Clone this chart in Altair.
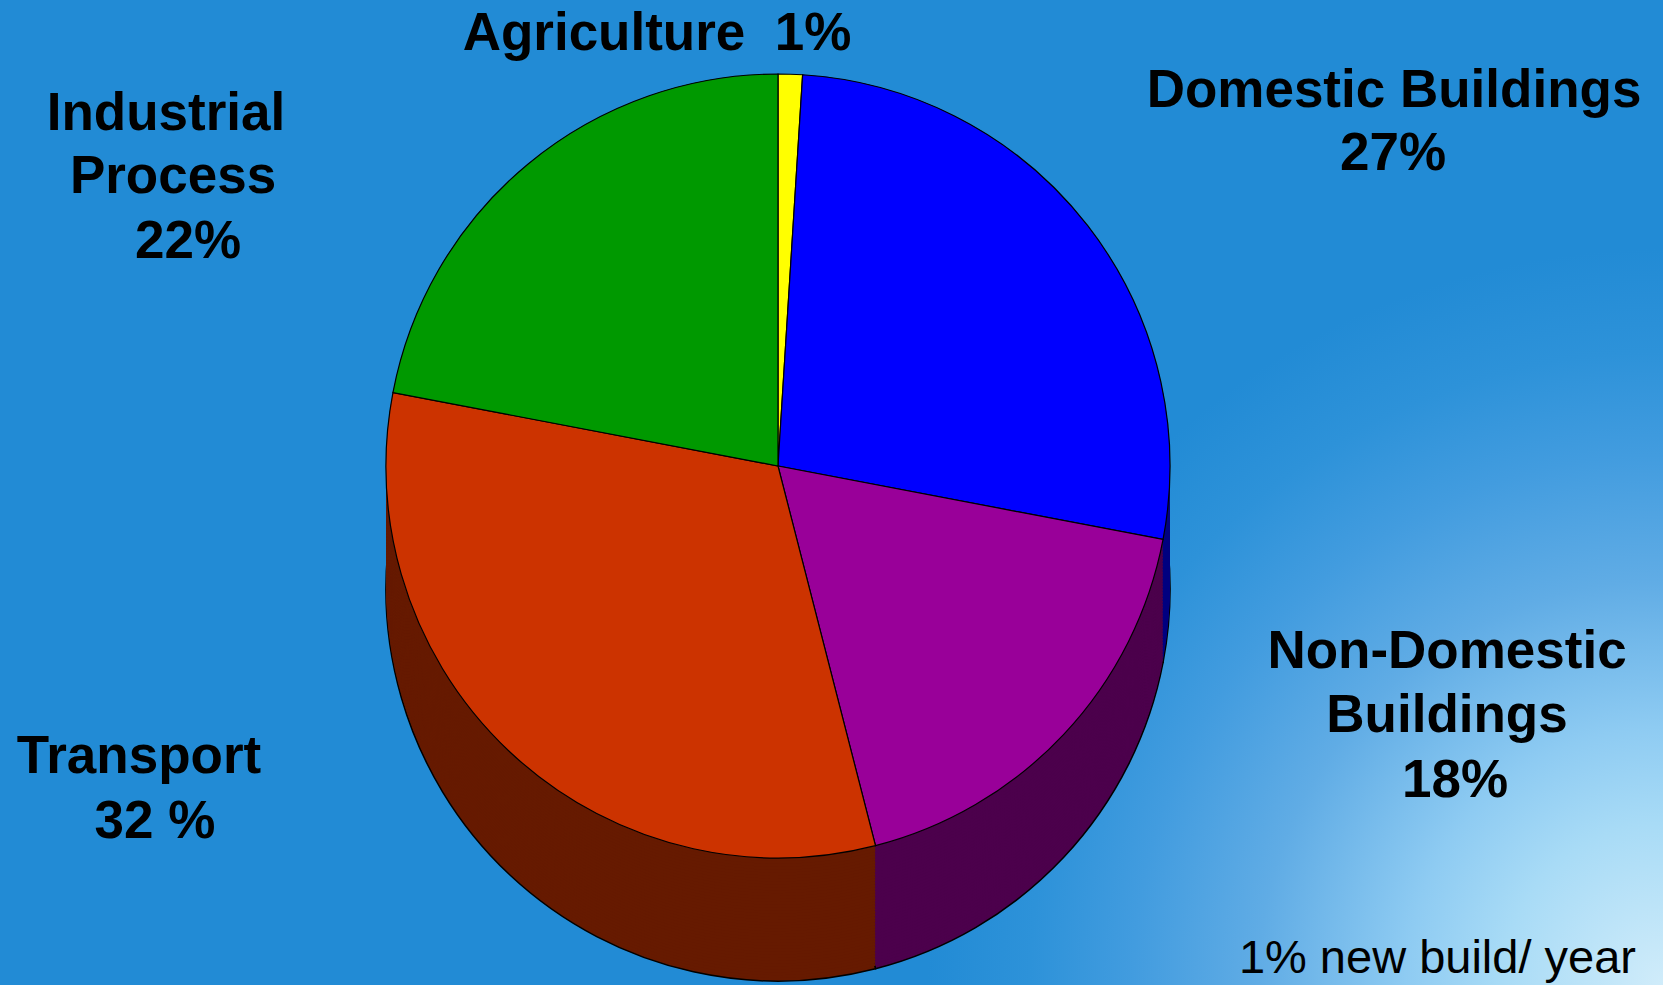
import math
import altair as alt
import pandas as pd

# ---- data ----
categories = ["Agriculture", "Domestic Buildings", "Non-Domestic Buildings", "Transport", "Industrial Process"]
shares = [1, 27, 18, 32, 22]
label_lines = [
    ["Agriculture\u00a0\u00a01%"],
    ["Domestic Buildings", "27%"],
    ["Non-Domestic", "Buildings", "18%"],
    ["Transport", "32 %"],
    ["Industrial", "Process", "22%"],
]
note_text = "1% new build/ year"

# ---- styles / layout ----
top_colors = ["#ffff00", "#0000ff", "#990099", "#cc3300", "#009900"]
side_colors = ["#7f7f00", "#000080", "#4c004c", "#661a00", "#004c00"]
W, H = 1663, 985
CX, CY, R, DEPTH = 778, 466, 392, 123
N_LAYERS = 42
label_pos = [
    [(657, 50)],
    [(1394, 107), (1393, 170)],
    [(1447, 668), (1447, 732), (1455, 797)],
    [(139, 773), (155, 838)],
    [(166, 130), (173, 193), (188, 258)],
]

starts, ends, acc = [], [], 0
for s in shares:
    starts.append(acc)
    acc += s
    ends.append(acc)
pie = pd.DataFrame({"cat": categories, "start": starts, "end": ends})

theta_scale = alt.Scale(domain=[0, 100], range=[0, 2 * math.pi])
side_color = alt.Color("cat:N", scale=alt.Scale(domain=categories, range=side_colors), legend=None)
top_color = alt.Color("cat:N", scale=alt.Scale(domain=categories, range=top_colors), legend=None)
y_scale = alt.Scale(domain=[0, N_LAYERS], range=[CY, CY + DEPTH])

# background glow (square box so that the radial gradient stays circular)
G = 800
bg = alt.Chart(pd.DataFrame({"a": [0]})).mark_rect(
    fill=alt.Gradient(
        gradient="radial",
        x1=1, y1=1, r1=0, x2=1, y2=1, r2=0.92,
        stops=[
            alt.GradientStop(color="#d0ecfa", offset=0),
            alt.GradientStop(color="#a8dbf6", offset=0.22),
            alt.GradientStop(color="#8ecbf2", offset=0.35),
            alt.GradientStop(color="#60ace5", offset=0.55),
            alt.GradientStop(color="#429cdf", offset=0.72),
            alt.GradientStop(color="#2d92d9", offset=0.86),
            alt.GradientStop(color="#228bd5", offset=1),
        ],
    ),
    strokeWidth=0,
).encode(x=alt.value(W - G), x2=alt.value(W), y=alt.value(H - G), y2=alt.value(H))

bottom_df = pie.assign(layer=N_LAYERS)
side_df = pd.concat([pie.assign(layer=k) for k in range(N_LAYERS - 1, -1, -1)], ignore_index=True)

bottom = alt.Chart(bottom_df).mark_arc(radius=R, stroke="black", strokeWidth=1.5).encode(
    x=alt.value(CX),
    y=alt.Y("layer:Q", scale=y_scale, axis=None, stack=None),
    theta=alt.Theta("start:Q", scale=theta_scale, stack=None),
    theta2="end:Q",
    color=side_color,
)
side = alt.Chart(side_df).mark_arc(radius=R, strokeWidth=0).encode(
    x=alt.value(CX),
    y=alt.Y("layer:Q", scale=y_scale, axis=None, stack=None),
    theta=alt.Theta("start:Q", scale=theta_scale, stack=None),
    theta2="end:Q",
    color=side_color,
)
top = alt.Chart(pie).mark_arc(radius=R, stroke="black", strokeWidth=1.2).encode(
    x=alt.value(CX),
    y=alt.value(CY),
    theta=alt.Theta("start:Q", scale=theta_scale, stack=None),
    theta2="end:Q",
    color=top_color,
)

texts = []
for lines, poss in zip(label_lines, label_pos):
    for line, (tx, ty) in zip(lines, poss):
        texts.append(
            alt.Chart(pd.DataFrame({"t": [line]})).mark_text(
                font="Liberation Sans", fontWeight="bold", fontSize=53,
                align="center", baseline="alphabetic", color="black",
            ).encode(x=alt.value(tx), y=alt.value(ty), text="t:N")
        )
note = alt.Chart(pd.DataFrame({"t": [note_text]})).mark_text(
    font="Liberation Sans", fontSize=47, align="right", baseline="alphabetic", color="black",
).encode(x=alt.value(1636), y=alt.value(973), text="t:N")

chart = alt.layer(bg, bottom, side, top, *texts, note).resolve_scale(color="independent").properties(
    width=W, height=H, padding=0, autosize="none", background="#228bd5"
).configure_view(stroke=None)

chart.save("out.html", embed_options={"renderer": "svg", "actions": False})
